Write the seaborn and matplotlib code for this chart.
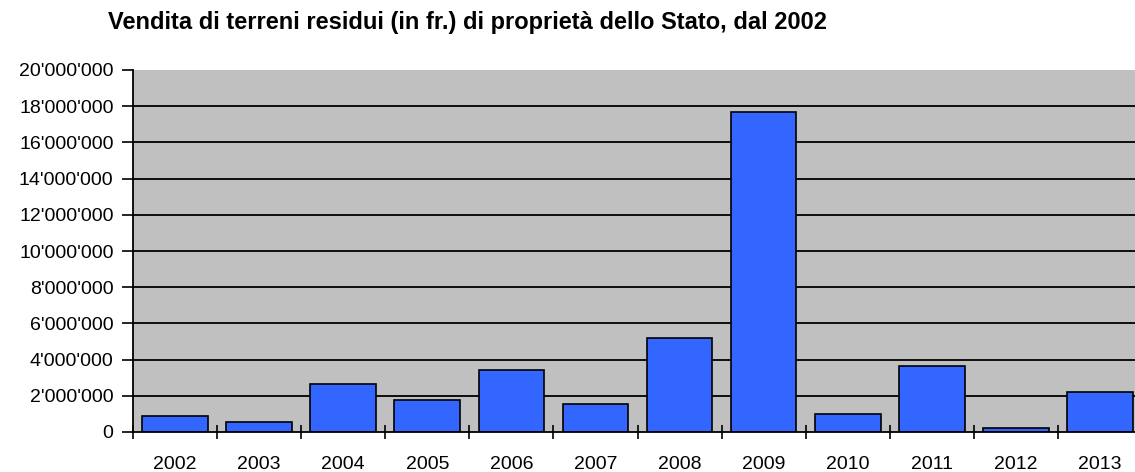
import numpy as np
import pandas as pd
import matplotlib
matplotlib.use("Agg")
import matplotlib.pyplot as plt
from matplotlib.ticker import FuncFormatter, FixedLocator
import seaborn as sns

# Dati (fr.)
anni = ["2002", "2003", "2004", "2005", "2006", "2007",
        "2008", "2009", "2010", "2011", "2012", "2013"]
vendite = [870000, 540000, 2660000, 1770000, 3440000, 1540000,
           5220000, 17680000, 990000, 3660000, 210000, 2210000]

titolo = "Vendita di terreni residui (in fr.) di proprietà dello Stato, dal 2002"

sns.set_style("white")
plt.rcParams['font.family'] = ['Liberation Sans', 'DejaVu Sans']

df = pd.DataFrame({"anno": anni, "vendita": vendite})

fig = plt.figure(figsize=(11.35, 4.72), dpi=100)
# l'area del grafico prosegue oltre il bordo destro, come nell'originale
ax = fig.add_axes([133 / 1135, 1 - 432 / 472, 1009 / 1135, (432 - 70) / 472])
ax.set_facecolor("#C0C0C0")

sns.barplot(data=df, x="anno", y="vendita", color="#3366FF", saturation=1,
            width=0.78, edgecolor="black", linewidth=1.2, ax=ax, zorder=3)

ax.set_ylim(0, 20000000)
ax.set_xlim(-0.5, len(anni) - 0.5)
ax.set_yticks(np.arange(0, 20000001, 2000000))
ax.yaxis.set_major_formatter(FuncFormatter(lambda v, p: f"{int(v):,}".replace(",", "'")))
for y in np.arange(2000000, 18000001, 2000000):
    ax.axhline(y, color="black", linewidth=1.3, zorder=1)

ax.set_xlabel("")
ax.set_ylabel("")
for s in ["top", "right"]:
    ax.spines[s].set_visible(False)
for s in ["left", "bottom"]:
    ax.spines[s].set_color("black")
    ax.spines[s].set_linewidth(1.3)
    ax.spines[s].set_zorder(4)

ax.tick_params(axis="y", which="major", left=True, length=8, width=1.2,
               color="black", labelsize=14, pad=6, labelcolor="black")
ax.tick_params(axis="x", which="major", bottom=False, labelsize=14, pad=14,
               labelcolor="black")
ax.xaxis.set_minor_locator(FixedLocator(np.arange(-0.5, len(anni) - 0.4, 1)))
ax.tick_params(axis="x", which="minor", bottom=True, length=10, width=1.2,
               color="black", direction="inout")

fig.text(108 / 1135, 1 - 22 / 472, titolo, ha="left", va="center",
         fontsize=17, fontweight="bold", color="black")

fig.savefig("out.png", dpi=100, facecolor="white")
